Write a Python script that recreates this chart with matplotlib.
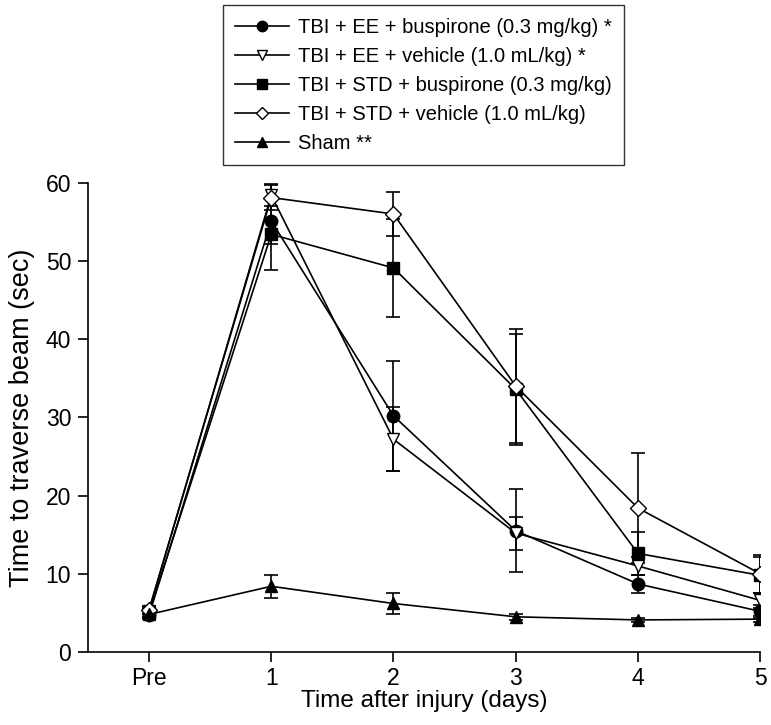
import matplotlib
matplotlib.use("Agg")
import matplotlib.pyplot as plt
import numpy as np
from matplotlib.lines import Line2D

plt.rcParams['font.family'] = ['Liberation Sans', 'DejaVu Sans']

x_labels = ["Pre", "1", "2", "3", "4", "5"]
x_pos = [0, 1, 2, 3, 4, 5]

labels = [
    "TBI + EE + buspirone (0.3 mg/kg) *",
    "TBI + EE + vehicle (1.0 mL/kg) *",
    "TBI + STD + buspirone (0.3 mg/kg)",
    "TBI + STD + vehicle (1.0 mL/kg)",
    "Sham **",
]
ee_bus = [4.7, 55.1, 30.2, 15.5, 8.7, 5.2]
ee_bus_err = [0.5, 3.0, 7.0, 5.3, 1.1, 0.8]
ee_veh = [5.3, 58.4, 27.2, 15.2, 11.0, 6.6]
ee_veh_err = [0.5, 1.4, 4.1, 2.1, 1.2, 1.0]
std_bus = [5.0, 53.4, 49.1, 33.6, 12.6, 9.8]
std_bus_err = [0.5, 4.5, 6.3, 7.1, 2.7, 2.3]
std_veh = [5.4, 58.1, 56.0, 34.0, 18.4, 10.0]
std_veh_err = [0.5, 1.6, 2.8, 7.3, 7.0, 2.4]
sham = [4.8, 8.4, 6.2, 4.5, 4.1, 4.2]
sham_err = [0.4, 1.5, 1.4, 0.4, 0.3, 0.4]

series = [ee_bus, ee_veh, std_bus, std_veh, sham]
errors = [ee_bus_err, ee_veh_err, std_bus_err, std_veh_err, sham_err]
markers = ['o', 'v', 's', 'D', '^']
faces = ['black', 'white', 'black', 'white', 'black']
msizes = [9, 9, 8, 8, 9]

fig = plt.figure(figsize=(7.71, 7.25), dpi=100)
ax = fig.add_axes([0.114, 0.1007, 0.872, 0.6473])

for y, e, m, fc, ms, lab in zip(series, errors, markers, faces, msizes, labels):
    ax.errorbar(x_pos, y, yerr=e, fmt='none', ecolor='black', elinewidth=1.2,
                capsize=5, capthick=1.2, zorder=2)
    ax.plot(x_pos, y, color='black', lw=1.2, marker=m, markersize=ms,
            markerfacecolor=fc, markeredgecolor='black', markeredgewidth=1.0,
            zorder=3, label=lab)

ax.set_xlim(-0.5, 5)
ax.set_ylim(0, 60)
ax.set_xticks(x_pos)
ax.set_xticklabels(x_labels)
ax.set_yticks(np.arange(0, 61, 10))
ax.spines['top'].set_visible(False)
ax.spines['right'].set_visible(False)
for s in ['left', 'bottom']:
    ax.spines[s].set_linewidth(1.2)
ax.tick_params(direction='out', length=7, width=1.2, labelsize=16.5, pad=5)
ax.tick_params(axis='x', pad=4)
ax.set_xlabel("Time after injury (days)", fontsize=17.5, labelpad=0)
ax.set_ylabel("Time to traverse beam (sec)", fontsize=19.5, labelpad=8)

leg_handles = [Line2D([], [], color='black', lw=1.2, marker=m, markersize=ms - 1.5,
                      markerfacecolor=fc, markeredgecolor='black')
               for m, fc, ms in zip(markers, faces, msizes)]
leg = fig.legend(leg_handles, labels, loc='upper center', bbox_to_anchor=(0.549, 0.998),
                 fontsize=14.5, frameon=True, fancybox=False, edgecolor='black',
                 handlelength=2.7, handletextpad=0.45, borderpad=0.6,
                 labelspacing=0.5, borderaxespad=0.2)
leg.get_frame().set_linewidth(1.0)

fig.savefig("out.png", dpi=100)
